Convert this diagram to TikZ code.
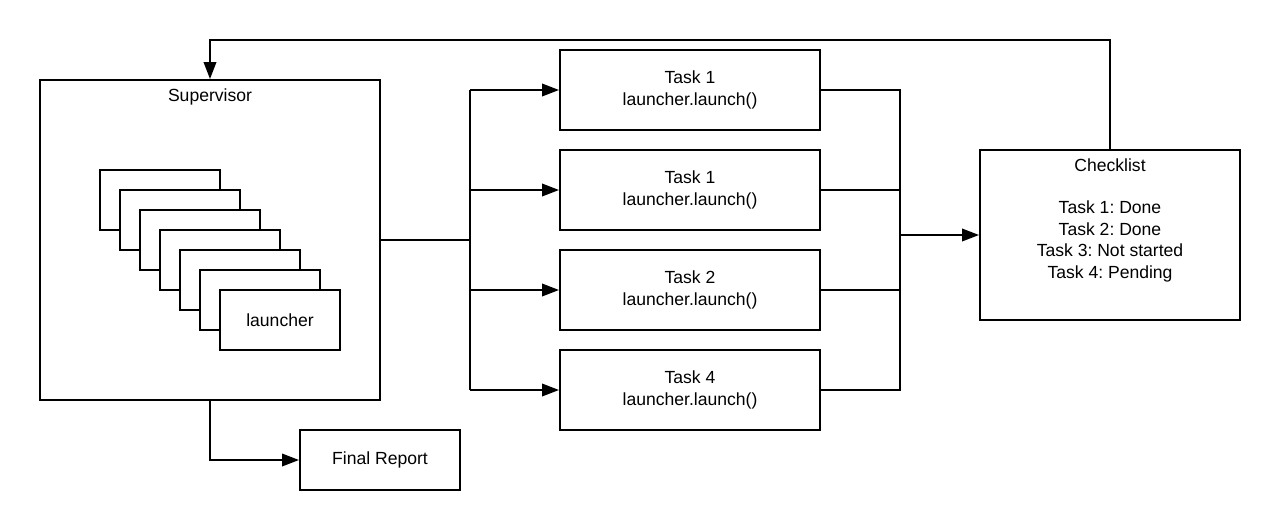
\documentclass[tikz,border=0pt]{standalone}
\usepackage{fontspec}
\setmainfont{Liberation Sans}
\usetikzlibrary{arrows.meta}
\begin{document}
\frenchspacing
\begin{tikzpicture}[x=0.02cm,y=-0.02cm,
  every node/.style={font=\fontsize{10}{12.2}\selectfont},
  box/.style={draw, line width=0.04cm, fill=white, inner sep=0pt, align=center},
  lbox/.style={box, minimum width=2.4cm, minimum height=1.2cm},
  taskbox/.style={box, minimum width=5.2cm, minimum height=1.6cm},
  wire/.style={line width=0.04cm},
  arr/.style={wire, -{Triangle[length=0.34cm,width=0.25cm]}}]
\useasboundingbox[fill=white] (0,0) rectangle (1280,531);
% supervisor
\node[box, minimum width=6.8cm, minimum height=6.4cm] (sup) at (210,240) {};
\node[anchor=base, inner sep=0pt] (suplab) at (210,101) {Supervisor};
% stacked launchers
\node[lbox] (l0) at (160,200) {};
\node[lbox] (l1) at (180,220) {};
\node[lbox] (l2) at (200,240) {};
\node[lbox] (l3) at (220,260) {};
\node[lbox] (l4) at (240,280) {};
\node[lbox] (l5) at (260,300) {};
\node[lbox] (l6) at (280,320) {launcher};
% tasks
\node[taskbox] (t1) at (690,90) {Task 1\\launcher.launch()};
\node[taskbox] (t2) at (690,190) {Task 1\\launcher.launch()};
\node[taskbox] (t3) at (690,290) {Task 2\\launcher.launch()};
\node[taskbox] (t4) at (690,390) {Task 4\\launcher.launch()};
% checklist
\node[box, minimum width=5.2cm, minimum height=3.4cm] (chk) at (1110,235) {};
\node[anchor=north, inner sep=0pt, align=center] (chklab) at (1110,158)
  {Checklist\\[12.2pt]Task 1: Done\\Task 2: Done\\Task 3: Not started\\Task 4: Pending};
% final report
\node[box, minimum width=3.2cm, minimum height=1.2cm] (fr) at (380,460) {Final Report};
% connectors
\coordinate (bus) at (470,240);
\coordinate (rbus) at (900,235);
\coordinate (fb) at (1110,40);
\draw[wire] (sup.east) -- (bus);
\draw[wire] (bus |- t1.west) -- (bus |- t4.west);
\draw[arr] (bus |- t1.west) -- (t1.west);
\draw[arr] (bus |- t2.west) -- (t2.west);
\draw[arr] (bus |- t3.west) -- (t3.west);
\draw[arr] (bus |- t4.west) -- (t4.west);
\draw[wire] (t1.east) -- (rbus |- t1.east) -- (rbus |- t4.east) -- (t4.east);
\draw[wire] (t2.east) -- (rbus |- t2.east);
\draw[wire] (t3.east) -- (rbus |- t3.east);
\draw[arr] (rbus) -- (chk.west);
\draw[arr] (chk.north) -- (fb) -| (sup.north);
\draw[arr] (sup.south) |- (fr.west);
\end{tikzpicture}
\end{document}
